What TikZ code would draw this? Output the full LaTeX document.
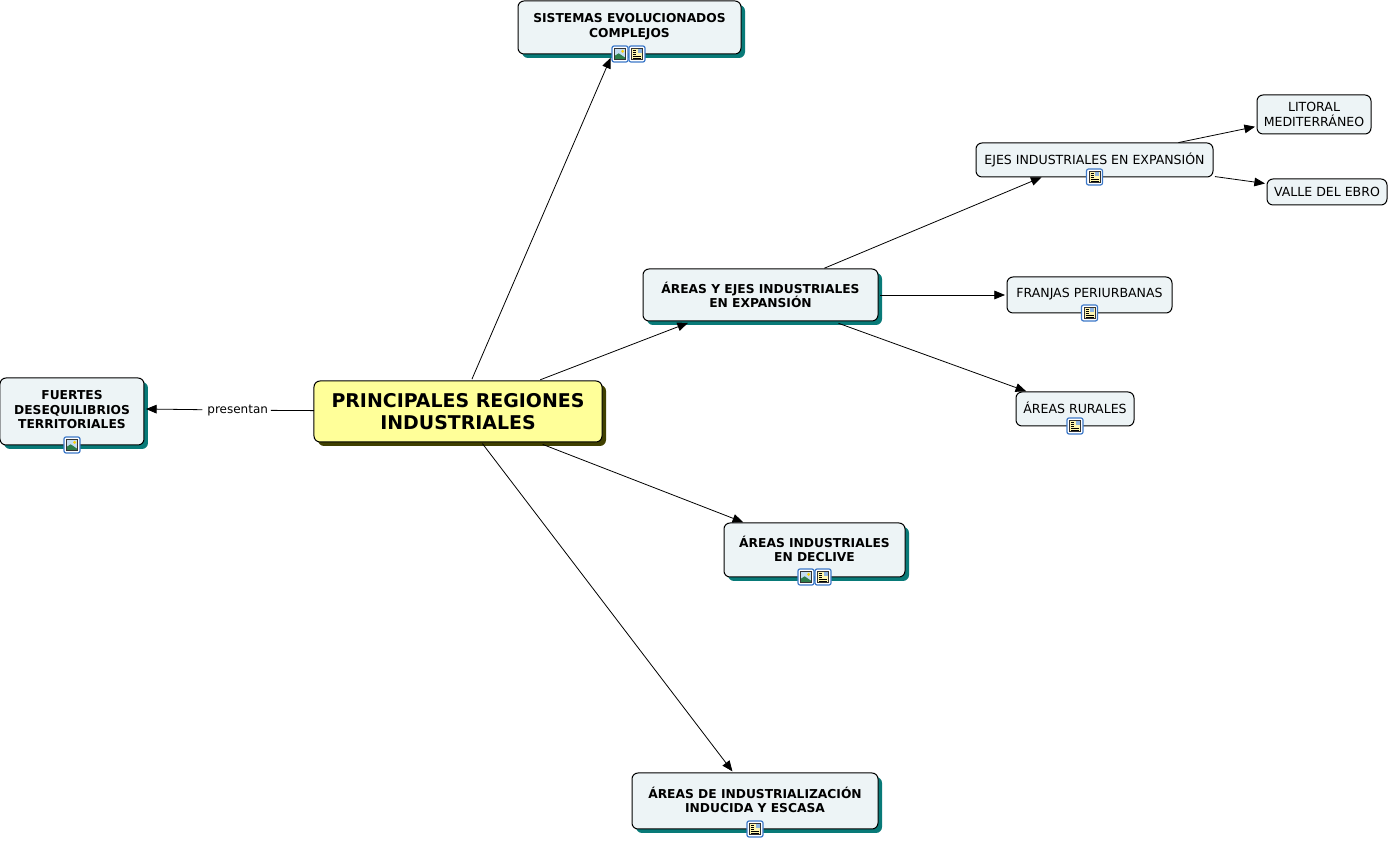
\documentclass[tikz,border=0pt]{standalone}
\usepackage{fontspec}
\setmainfont{DejaVu Sans}
\usepackage{xcolor}
\definecolor{clBox}{HTML}{EDF4F6}
\definecolor{clMain}{HTML}{FFFF99}
\definecolor{clShadow}{HTML}{087A78}
\definecolor{clMainShadow}{HTML}{404000}
\definecolor{clIcon}{HTML}{3C78C8}
\definecolor{clSky}{HTML}{C4DCF0}
\definecolor{clHill}{HTML}{2E7D4A}
\definecolor{clPage}{HTML}{FFF6B0}
\usetikzlibrary{arrows.meta,positioning,shadows}
\tikzset{
  box/.style={rectangle, rounded corners=4.5pt, draw=black, line width=0.75pt, fill=clBox,
              align=center, inner sep=0pt, outer sep=0pt, text=black},
  concept/.style={box, font=\fontsize{9.4}{10.9}\selectfont},
  strong/.style={box, font=\fontsize{9.2}{10.9}\selectfont\bfseries,
                 copy shadow={shadow xshift=3pt, shadow yshift=-3pt, draw=none, fill=clShadow}},
  root/.style={box, fill=clMain, font=\fontsize{14.2}{16.5}\selectfont\bfseries,
               copy shadow={shadow xshift=3pt, shadow yshift=-3pt, draw=none, fill=clMainShadow}},
  flow/.style={-{Triangle[length=8pt,width=6.5pt]}, line width=0.6pt, shorten <=1.5pt, shorten >=1.5pt},
  plain/.style={line width=0.6pt},
  linklabel/.style={font=\fontsize{9}{10.9}\selectfont, inner sep=2.25pt, outer sep=0pt},
  pics/imgicon/.style={code={
    \draw[clIcon, fill=white, line width=0.9pt, rounded corners=1.5pt] (-6pt,-6pt) rectangle (6pt,6pt);
    \fill[clSky] (-4.2pt,-4.2pt) rectangle (4.2pt,4.2pt);
    \fill[yellow!70!orange] (2pt,2pt) circle (1.2pt);
    \fill[clHill] (-4.2pt,-4.2pt) -- (-4.2pt,-1.5pt) -- (-1pt,0.5pt) -- (4.2pt,-3pt) -- (4.2pt,-4.2pt) -- cycle;
    \draw[black!80, line width=0.35pt] (-4.2pt,-4.2pt) rectangle (4.2pt,4.2pt);
  }},
  pics/noteicon/.style={code={
    \draw[clIcon, fill=white, line width=0.9pt, rounded corners=1.5pt] (-6pt,-6pt) rectangle (6pt,6pt);
    \fill[clPage] (-4.2pt,-4.2pt) rectangle (4.2pt,4.2pt);
    \fill[clSky!60!clIcon] (0.5pt,0.5pt) rectangle (3.5pt,3.5pt);
    \draw[black, line width=0.3pt] (-3pt,-3pt) -- (3pt,-3pt) (-3pt,-1.5pt) -- (3pt,-1.5pt)
      (-3pt,0.2pt) -- (-0.5pt,0.2pt) (-3pt,1.7pt) -- (-0.5pt,1.7pt) (-3pt,3.2pt) -- (-0.5pt,3.2pt);
    \draw[black!80, line width=0.35pt] (-4.2pt,-4.2pt) rectangle (4.2pt,4.2pt);
  }},
}
\begin{document}
\begin{tikzpicture}
  \useasboundingbox (-343.5pt,308.625pt) rectangle (698.25pt,-322.125pt);
  \node[root, minimum width=216pt, minimum height=45.75pt] (main) at (0,0) {PRINCIPALES REGIONES\\INDUSTRIALES};
  % first level
  \node[strong, minimum width=167.25pt, minimum height=39.75pt, text depth=3pt, above right=245.25pt and -63pt of main] (sistemas) {SISTEMAS EVOLUCIONADOS\\COMPLEJOS};
  \node[strong, minimum width=176.25pt, minimum height=39pt, above right=45pt and 30.75pt of main] (ejesareas) {ÁREAS Y EJES INDUSTRIALES\\EN EXPANSIÓN};
  \node[strong, minimum width=135.75pt, minimum height=40.5pt, text depth=1.5pt, below right=60.75pt and 91.5pt of main] (declive) {ÁREAS INDUSTRIALES\\EN DECLIVE};
  \node[strong, minimum width=184.5pt, minimum height=42pt, text depth=1.5pt, below right=248.25pt and 22.5pt of main] (inducida) {ÁREAS DE INDUSTRIALIZACIÓN\\INDUCIDA Y ESCASA};
  \node[strong, minimum width=108pt, minimum height=50.25pt, text depth=3pt, left=127.5pt of main] (fuertes) {FUERTES\\DESEQUILIBRIOS\\TERRITORIALES};
  \node[linklabel, left=32.25pt of main, yshift=1pt] (presentan) {presentan};
  % second level
  \node[concept, minimum width=177.75pt, minimum height=25.5pt, text depth=1.5pt, above right=69pt and 73.5pt of ejesareas] (ejes) {EJES INDUSTRIALES EN EXPANSIÓN};
  \node[concept, minimum width=123.75pt, minimum height=27pt, text depth=2.5pt, right=96.75pt of ejesareas] (franjas) {FRANJAS PERIURBANAS};
  \node[concept, minimum width=88.5pt, minimum height=25.5pt, text depth=1.5pt, below right=53.25pt and 103.5pt of ejesareas] (rurales) {ÁREAS RURALES};
  \node[concept, minimum width=85.5pt, minimum height=29.25pt, above right=6.75pt and 33pt of ejes] (litoral) {LITORAL\\MEDITERRÁNEO};
  \node[concept, minimum width=90pt, minimum height=19.5pt, below right=1.5pt and 40.5pt of ejes] (valle) {VALLE DEL EBRO};
  % resources
  \pic at ([xshift=-7.1pt]sistemas.south) {imgicon};
  \pic at ([xshift=5.6pt]sistemas.south) {noteicon};
  \pic at (fuertes.south) {imgicon};
  \pic at ([xshift=-6.4pt]declive.south) {imgicon};
  \pic at ([xshift=6.4pt]declive.south) {noteicon};
  \pic at (inducida.south) {noteicon};
  \pic at (ejes.south) {noteicon};
  \pic at (franjas.south) {noteicon};
  \pic at (rurales.south) {noteicon};
  % links
  \draw[flow, shorten >=3pt] (main)--(sistemas.237);
  \draw[flow, shorten <=2.5pt, shorten >=4pt] (main)--(ejesareas);
  \draw[flow, shorten <=5pt] (main)--(declive);
  \draw[flow] (main)--(inducida);
  \draw[plain] (main)--(presentan);
  \draw[flow] (presentan)--(fuertes.2);
  \draw[flow, shorten >=0.5pt] (ejesareas)--(ejes.198);
  \draw[flow] (ejesareas)--(franjas);
  \draw[flow, shorten <=5pt] (ejesareas)--(rurales);
  \draw[flow] (ejes)--(litoral);
  \draw[flow] (ejes)--(valle);
\end{tikzpicture}
\end{document}
